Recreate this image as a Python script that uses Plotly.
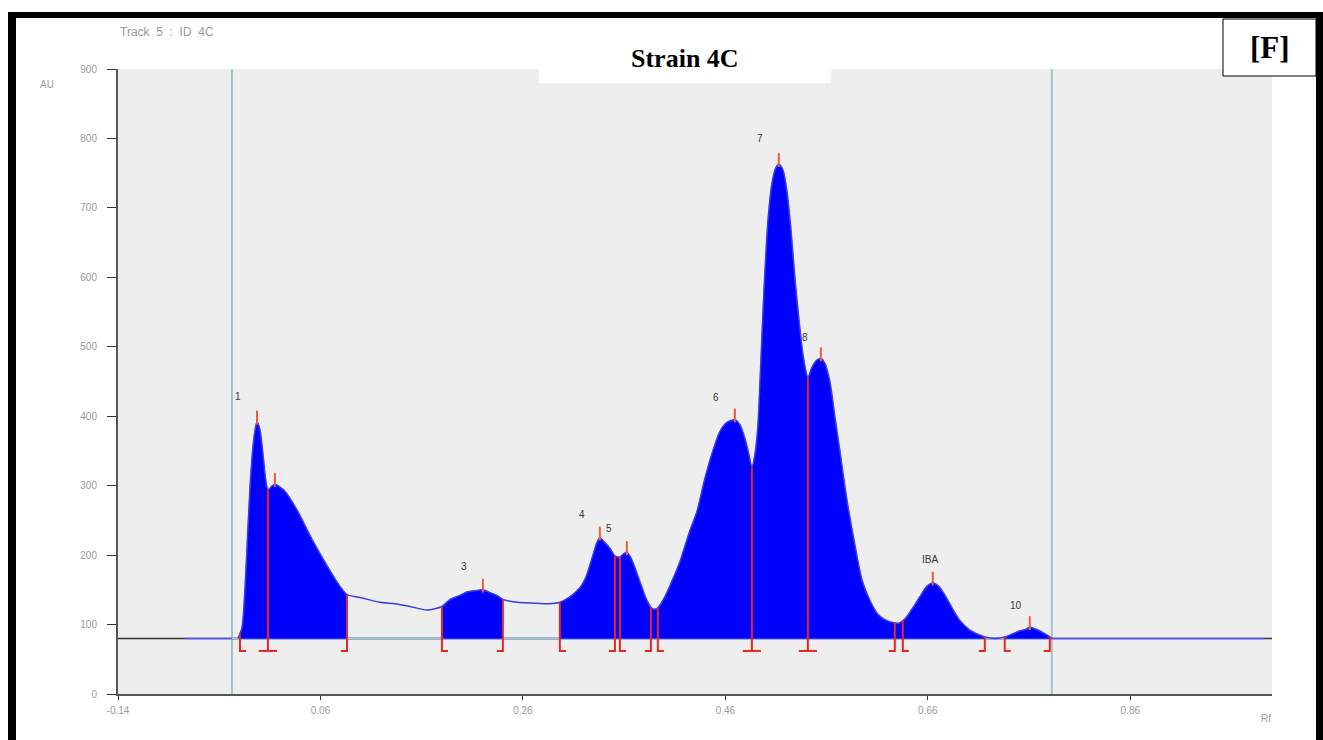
import numpy as np
import plotly.graph_objects as go

# ---------------- data ----------------
# densitometric profile (Rf, AU)
rf = [-0.0738, -0.0215, -0.0175, -0.0146, -0.0116, -0.0086, -0.0056, -0.0027, 0.0003, 0.0032,
      0.0062, 0.0081, 0.0111, 0.015, 0.0249, 0.0368, 0.0526, 0.0664, 0.0793, 0.0862,
      0.099, 0.1188, 0.1336, 0.1484, 0.1652, 0.18, 0.1879, 0.1978, 0.2047, 0.2146,
      0.2205, 0.2274, 0.2343, 0.2402, 0.2501, 0.2669, 0.2866, 0.2965, 0.3064, 0.3163,
      0.3222, 0.3282, 0.3331, 0.336, 0.341, 0.3459, 0.3509, 0.3558, 0.3597, 0.3627,
      0.3667, 0.3716, 0.3765, 0.3815, 0.3864, 0.3894, 0.3933, 0.4002, 0.4071, 0.415,
      0.4249, 0.4318, 0.4397, 0.4476, 0.4546, 0.4615, 0.4694, 0.4743, 0.4793, 0.4832,
      0.4862, 0.4892, 0.4921, 0.4951, 0.4981, 0.502, 0.506, 0.5099, 0.5128, 0.5168,
      0.5207, 0.5247, 0.5286, 0.5326, 0.5365, 0.5395, 0.5415, 0.5454, 0.5504, 0.5543,
      0.5583, 0.5632, 0.5681, 0.5731, 0.58, 0.5879, 0.5948, 0.6027, 0.6106, 0.6205,
      0.6314, 0.6373, 0.6442, 0.6521, 0.659, 0.6649, 0.6708, 0.6778, 0.6847, 0.6916,
      0.7015, 0.7095, 0.7163, 0.7262, 0.736, 0.7429, 0.7509, 0.7568, 0.7607, 0.7657,
      0.7716, 0.7775, 0.7825, 0.9928]
au = [80, 80, 95, 150, 240, 320, 370, 392, 380, 345,
      305, 294, 298, 302, 292, 265, 220, 185, 155, 143,
      139, 132, 130, 126, 121, 126, 136, 142, 147, 149,
      150, 146, 142, 136, 133, 131, 130, 132, 140, 153,
      168, 195, 218, 225, 218, 210, 199, 197, 202, 204,
      196, 178, 158, 138, 125, 122, 124, 140, 162, 190,
      235, 262, 310, 350, 378, 391, 395, 388, 368, 345,
      326, 345, 385, 480, 580, 680, 735, 758, 763, 755,
      725, 670, 600, 540, 490, 465, 455, 470, 481, 483,
      476, 450, 400, 350, 280, 215, 165, 135, 115, 105,
      102, 108, 122, 140, 155, 160, 155, 140, 122, 106,
      92, 86, 82, 80, 82, 86, 91, 93, 96, 94,
      90, 85, 80, 80]

baseline = 80
# integrated regions (start, end)
region_start = [-0.0195, 0.18, 0.2965, 0.736]
region_end = [0.0862, 0.2402, 0.7163, 0.7805]
# boundary markers
open_marks = [-0.0195, 0.18, 0.2965, 0.3558, 0.3933, 0.6353, 0.736]
close_marks = [0.0862, 0.2402, 0.3509, 0.3864, 0.6274, 0.7163, 0.7805]
drop_marks = [0.0081, 0.4862, 0.5415]
# peak apexes
peak_rf = [-0.0027, 0.015, 0.2205, 0.336, 0.3627, 0.4694, 0.5128, 0.5543, 0.6649, 0.7607]
# peak labels
label_text = ["1", "3", "4", "5", "6", "7", "8", "IBA", "10"]
label_rf = [-0.0215, 0.2017, 0.3183, 0.345, 0.4506, 0.494, 0.5385, 0.662, 0.747]
label_au = [428, 183, 258, 238, 427, 800, 514, 193, 128]
# application / front lines
front_lines = [-0.0274, 0.7825]
# axes
x_ticks = [-0.14, 0.06, 0.26, 0.46, 0.66, 0.86]
x_tick_text = ["-0.14", "0.06", "0.26", "0.46", "0.66", "0.86"]
y_ticks = [0, 100, 200, 300, 400, 500, 600, 700, 800, 900]

# ---------------- figure ----------------
W, H = 1323, 740
L, R, T, B = 118, 1272, 69, 694


def px(x):
    return (x - L) / (R - L)


def py(y):
    return (B - y) / (B - T)


rf_a = np.array(rf)
au_a = np.array(au, dtype=float)
RED = "#e8261e"
SPL = dict(shape="spline", smoothing=0.7)

fig = go.Figure()

# front lines
for xv in front_lines:
    fig.add_trace(go.Scatter(x=[xv, xv], y=[0, 900], mode="lines",
                             line=dict(color="#a4c3c8", width=2), hoverinfo="skip"))

# baselines
fig.add_trace(go.Scatter(x=[-0.14, 1.0], y=[baseline, baseline], mode="lines",
                         line=dict(color="#333333", width=1.5), hoverinfo="skip"))
fig.add_trace(go.Scatter(x=[rf[0], rf[-1]], y=[baseline, baseline], mode="lines",
                         line=dict(color="#5555ff", width=1.5), hoverinfo="skip"))
fig.add_trace(go.Scatter(x=front_lines, y=[baseline, baseline], mode="lines",
                         line=dict(color="#9fcaca", width=1.5), hoverinfo="skip"))

# filled regions
for s, e in zip(region_start, region_end):
    m = (rf_a > s) & (rf_a < e)
    xs = [s] + list(rf_a[m]) + [e]
    ys = [np.interp(s, rf_a, au_a)] + list(au_a[m]) + [np.interp(e, rf_a, au_a)]
    fig.add_trace(go.Scatter(x=[s, e], y=[baseline, baseline], mode="lines",
                             line=dict(color="#0000ff", width=0.5), hoverinfo="skip"))
    fig.add_trace(go.Scatter(x=xs, y=ys, mode="lines", fill="tonexty", fillcolor="#0000ff",
                             line=dict(color="#0000ff", width=0.5, **SPL), hoverinfo="skip"))

# profile line (flat ends are drawn by the blue baseline)
fig.add_trace(go.Scatter(x=rf[1:-1], y=au[1:-1], mode="lines",
                         line=dict(color="#3c3ce0", width=1.5, **SPL), hoverinfo="skip"))

# red boundary lines
bottom = 62
hook = 0.006
lx, ly = [], []
for xv in open_marks:
    top = np.interp(xv, rf_a, au_a)
    lx += [xv, xv, xv + hook, None]
    ly += [top, bottom, bottom, None]
for xv in close_marks:
    top = np.interp(xv, rf_a, au_a)
    lx += [xv, xv, xv - hook, None]
    ly += [top, bottom, bottom, None]
for xv in drop_marks:
    top = np.interp(xv, rf_a, au_a)
    lx += [xv, xv, None, xv - 0.009, xv + 0.009, None]
    ly += [top, bottom, None, bottom, bottom, None]
fig.add_trace(go.Scatter(x=lx, y=ly, mode="lines", line=dict(color=RED, width=2),
                         hoverinfo="skip"))

# peak apex ticks
tx, ty = [], []
for xv in peak_rf:
    top = np.interp(xv, rf_a, au_a)
    tx += [xv, xv, None]
    ty += [top - 4, top + 16, None]
fig.add_trace(go.Scatter(x=tx, y=ty, mode="lines", line=dict(color="#f05a3a", width=2),
                         hoverinfo="skip"))

# peak labels
for t, xv, yv in zip(label_text, label_rf, label_au):
    fig.add_annotation(x=xv, y=yv, text=t, showarrow=False, xanchor="center", yanchor="middle",
                       font=dict(family="Liberation Sans", size=10, color="#333333"))

tickfont = dict(family="Liberation Sans", size=10, color="#9a9a9a")

fig.update_layout(
    width=W, height=H,
    margin=dict(l=L, r=W - R, t=T, b=H - B, pad=0),
    paper_bgcolor="white", plot_bgcolor="#eeeeee",
    showlegend=False,
    xaxis=dict(range=[-0.14, 1.0], tickvals=x_ticks, ticktext=x_tick_text, showgrid=False,
               zeroline=False, showline=True, linecolor="#555555", linewidth=2,
               ticks="outside", ticklen=4, tickcolor="#333333", tickfont=tickfont,
               ticklabelstandoff=2),
    yaxis=dict(range=[0, 900], tickvals=y_ticks, showgrid=False, zeroline=False,
               showline=True, linecolor="#555555", linewidth=2,
               ticks="outside", ticklen=9, tickcolor="#333333", tickfont=tickfont,
               ticklabelstandoff=8),
)

shapes = []
# black frame
for x0, y0, x1, y1 in [(8, 12, 16, 745), (8, 12, 1323, 18), (1316, 12, 1330, 745)]:
    shapes.append(dict(type="rect", xref="paper", yref="paper", x0=px(x0), x1=px(x1),
                       y0=py(y1), y1=py(y0), fillcolor="black", line=dict(width=0), layer="above"))
# title white box
shapes.append(dict(type="rect", xref="paper", yref="paper", x0=px(539), x1=px(831),
                   y0=py(83), y1=py(18), fillcolor="white", line=dict(width=0), layer="above"))
# [F] box
shapes.append(dict(type="rect", xref="paper", yref="paper", x0=px(1223), x1=px(1316),
                   y0=py(76), y1=py(19), fillcolor="white",
                   line=dict(color="black", width=1), layer="above"))
fig.update_layout(shapes=shapes)

fig.add_annotation(xref="paper", yref="paper", x=px(685), y=py(59), xanchor="center",
                   yanchor="middle", text="<b>Strain 4C</b>", showarrow=False,
                   font=dict(family="Liberation Serif", size=26, color="black"))
fig.add_annotation(xref="paper", yref="paper", x=px(1270), y=py(48), xanchor="center",
                   yanchor="middle", text="<b>[F]</b>", showarrow=False,
                   font=dict(family="Liberation Serif", size=31, color="black"))
fig.add_annotation(xref="paper", yref="paper", x=px(118), y=py(32), xanchor="left",
                   yanchor="middle", text="Track  5  :  ID  4C", showarrow=False,
                   font=dict(family="Liberation Sans", size=12, color="#9a9a9a"))
fig.add_annotation(xref="paper", yref="paper", x=px(47), y=py(84), xanchor="center",
                   yanchor="middle", text="AU", showarrow=False,
                   font=dict(family="Liberation Sans", size=10, color="#9a9a9a"))
fig.add_annotation(xref="paper", yref="paper", x=px(1266), y=py(718), xanchor="center",
                   yanchor="middle", text="Rf", showarrow=False,
                   font=dict(family="Liberation Sans", size=10, color="#9a9a9a"))

fig.write_html("out.html")
